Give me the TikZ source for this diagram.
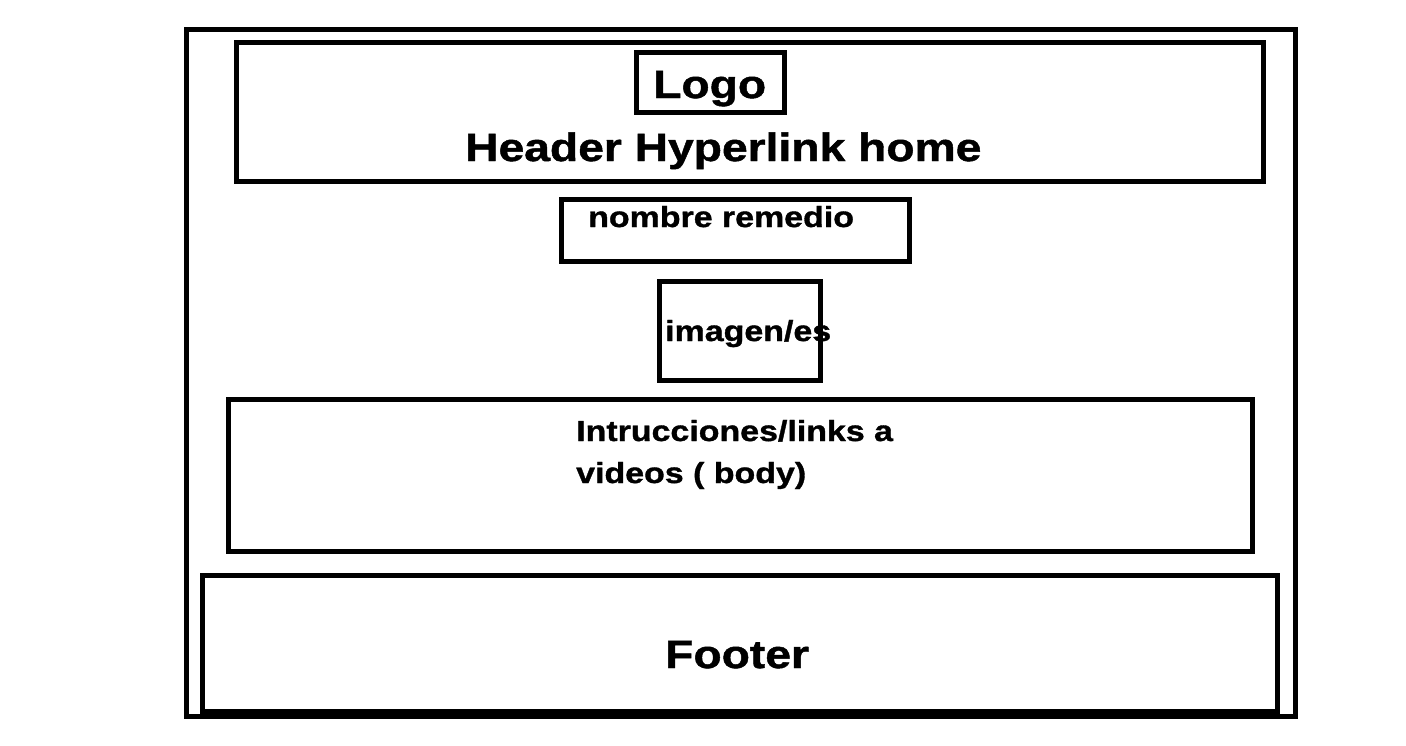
\documentclass[tikz,border=0pt]{standalone}
\usepackage{fontspec}
\newfontfamily\wf{Liberation Sans}[FakeStretch=1.17,FakeBold=1.2]
\begin{document}
\begin{tikzpicture}[x=1pt,y=-1pt,
  frame/.style={draw=black,line width=5pt},
  big/.style={inner sep=0pt,font=\wf\bfseries\fontsize{39.5}{41}\selectfont},
  small/.style={inner sep=0pt,font=\wf\bfseries\fontsize{29}{41}\selectfont}]
\useasboundingbox[fill=white] (0,0) rectangle (1406,745);
% page frame and sections
\draw[frame] (186.5,29.5) rectangle (1295.5,716.5);
\draw[frame] (236.5,42.5) rectangle (1263,181);
\draw[frame] (636.5,52.5) rectangle (784,112.5);
\draw[frame] (561.5,199) rectangle (909,261);
\draw[frame] (659,281) rectangle (820.5,380);
\draw[frame] (228,399.5) rectangle (1252.5,551.5);
\draw[frame] (202.5,575.5) rectangle (1277.5,711.5);
% labels
\node[big,anchor=base west] (logo) at (653,98) {Logo};
\node[big,anchor=base west] (header) at (465,161) {Header Hyperlink home};
\node[small,anchor=base west] (nombre) at (588,227) {nombre remedio};
\node[small,anchor=base west] (imagen) at (665,341) {imagen/es};
\node[small,anchor=base west] (body1) at (576,441) {Intrucciones/links a};
\node[small,anchor=base west] (body2) at (576,483) {videos ( body)};
\node[big,anchor=base west] (footer) at (665,668) {Footer};
\end{tikzpicture}
\end{document}
